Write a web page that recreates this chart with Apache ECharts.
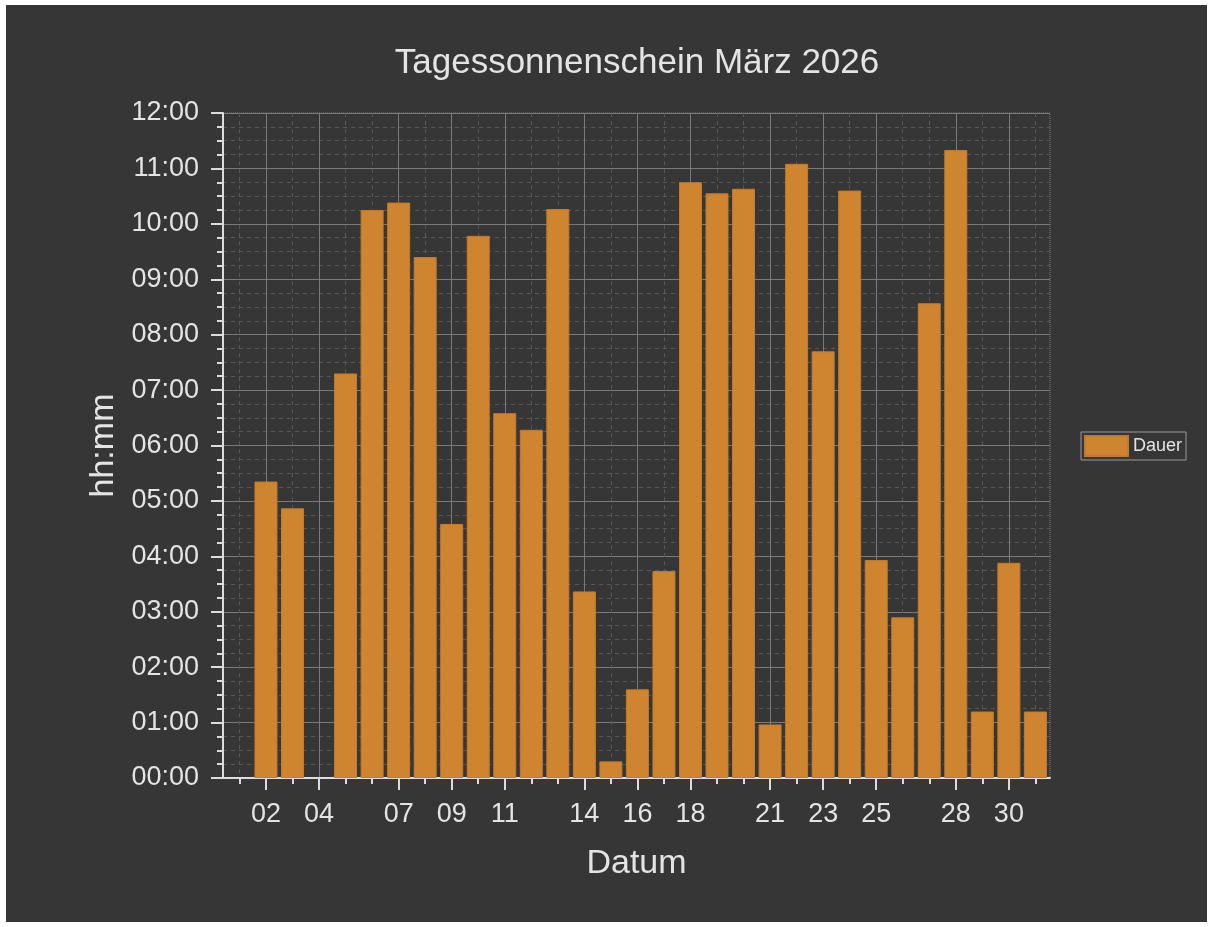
<!DOCTYPE html>
<html>
<head>
<meta charset="utf-8">
<title>Tagessonnenschein März 2026</title>
<script src="https://cdn.jsdelivr.net/npm/echarts@6/dist/echarts.min.js"></script>
<style>
  html, body { margin: 0; padding: 0; background: #ffffff; }
  #chart { position: absolute; left: 6px; top: 5px; width: 1201px; height: 917px; }
</style>
</head>
<body>
<div id="chart"></div>
<script>
// Tage im März (1..31)
var days = [1, 2, 3, 4, 5, 6, 7, 8, 9, 10, 11, 12, 13, 14, 15, 16,
            17, 18, 19, 20, 21, 22, 23, 24, 25, 26, 27, 28, 29, 30, 31];
// Sonnenscheindauer in Minuten pro Tag (null = keine Messung)
var minutes = [null, 321, 292, null, 438, 615, 623, 564, 275, 587, 395, 377, 616, 202, 18, 96,
               224, 645, 633, 638, 58, 665, 462, 636, 236, 174, 514, 680, 72, 233, 72];
// beschriftete Tage auf der x-Achse
var labelDays = [2, 4, 7, 9, 11, 14, 16, 18, 21, 23, 25, 28, 30];

var textColor = '#e4e4e4';
var barData = days.map(function (d, i) { return [d, minutes[i]]; });

function hhmm(v) {
  var h = Math.floor(v / 60), m = Math.round(v % 60);
  return String(h).padStart(2, '0') + ':' + String(m).padStart(2, '0');
}

var myChart = echarts.init(document.getElementById('chart'));
myChart.setOption({
  backgroundColor: '#363636',
  animation: false,
  textStyle: { fontFamily: 'Liberation Sans, Arial, sans-serif' },
  title: {
    text: 'Tagessonnenschein März 2026',
    left: 626,
    textAlign: 'center',
    top: 36,
    textStyle: { color: textColor, fontSize: 35, fontWeight: 'normal' }
  },
  legend: {
    data: ['Dauer'],
    left: 1075,
    top: 427,
    orient: 'vertical',
    padding: [3, 4, 3, 3],
    itemWidth: 43,
    itemHeight: 20,
    icon: 'rect',
    borderColor: '#9a9a9a',
    borderWidth: 1,
    textStyle: { color: textColor, fontSize: 18 }
  },
  grid: {
    left: 217, right: 157, top: 108, bottom: 144,
    show: true,
    borderColor: '#808080',
    borderWidth: 1,
    borderType: 'dotted',
    backgroundColor: 'transparent'
  },
  xAxis: [{
    type: 'value',
    position: 'bottom',
    min: 0.38,
    max: 31.55,
    axisLine: { show: true, onZero: false, lineStyle: { color: '#dcdcdc', width: 2 } },
    axisTick: { show: true, customValues: days, length: 6, lineStyle: { color: '#dcdcdc', width: 2 } },
    axisLabel: { show: false },
    splitLine: { show: true, lineStyle: { color: '#575757', type: [4, 4], width: 1 } }
  }, {
    type: 'value',
    position: 'bottom',
    min: 0.38,
    max: 31.55,
    name: 'Datum',
    nameLocation: 'middle',
    nameGap: 69,
    nameTextStyle: { color: textColor, fontSize: 34 },
    axisLine: { show: false, onZero: false },
    axisTick: { show: true, customValues: labelDays, length: 12, lineStyle: { color: '#dcdcdc', width: 2 } },
    axisLabel: {
      customValues: labelDays,
      color: textColor,
      fontSize: 27,
      margin: 23,
      formatter: function (v) { return String(v).padStart(2, '0'); }
    },
    splitLine: { show: true, lineStyle: { color: '#7a7a7a', width: 1 } }
  }],
  yAxis: {
    type: 'value',
    min: 0,
    max: 720,
    interval: 60,
    name: 'hh:mm',
    nameLocation: 'middle',
    nameGap: 100,
    nameTextStyle: { color: textColor, fontSize: 34 },
    axisLine: { show: true, lineStyle: { color: '#dcdcdc', width: 2 } },
    axisTick: { show: true, length: 12, lineStyle: { color: '#dcdcdc', width: 2 } },
    minorTick: { show: true, splitNumber: 4, length: 6, lineStyle: { color: '#dcdcdc', width: 2 } },
    axisLabel: { color: textColor, fontSize: 27, margin: 24, formatter: hhmm },
    splitLine: { show: true, lineStyle: { color: '#7a7a7a', width: 1 } },
    minorSplitLine: { show: true, lineStyle: { color: '#575757', type: [4, 4], width: 1 } }
  },
  series: [{
    name: 'Dauer',
    type: 'bar',
    xAxisIndex: 0,
    barWidth: 23,
    data: barData,
    itemStyle: { color: '#cf8530', borderColor: '#c27b2b', borderWidth: 1 }
  }]
});
</script>
</body>
</html>
